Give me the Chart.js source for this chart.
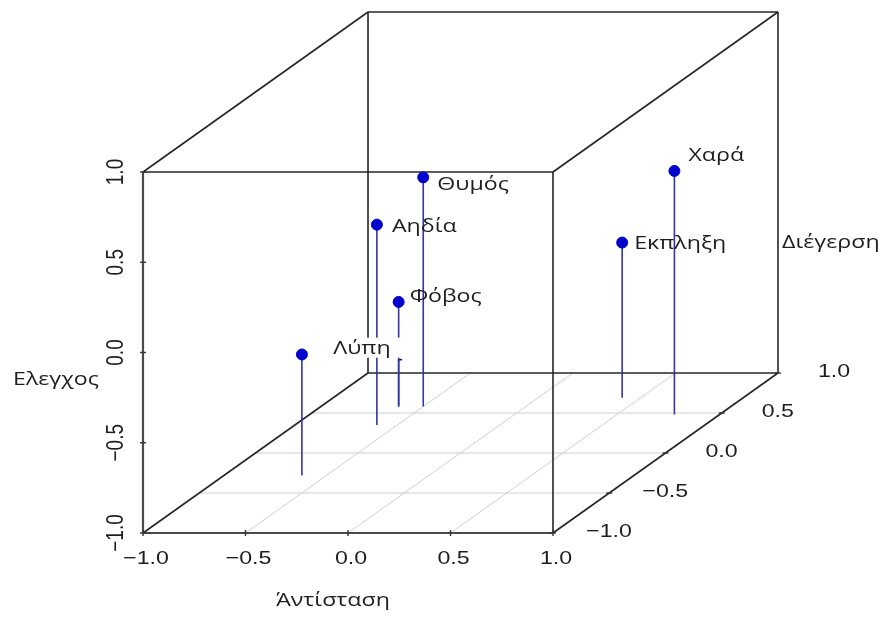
<!DOCTYPE html>
<html>
<head>
<meta charset="utf-8">
<script src="https://cdn.jsdelivr.net/npm/chart.js@4/dist/chart.umd.min.js"></script>
<style>
  html, body { margin: 0; padding: 0; background: #ffffff; }
  #wrap { width: 883px; height: 619px; }
</style>
</head>
<body>
<div id="wrap"><canvas id="c" width="883" height="619"></canvas></div>
<script>
// Emotions placed in a three-dimensional space
const emotions   = ['Χαρά', 'Εκπληξη', 'Θυμός', 'Αηδία', 'Φόβος', 'Λύπη', ''];
const resistance = [0.78, 0.41, -0.50, -0.60, -0.62, -0.62, -0.62];   // Άντίσταση (x)
const arousal    = [0.48, 0.69, 0.58, 0.35, 0.58, 0.58, -0.28];       // Διέγερση (depth)
const control    = [0.35, -0.14, 0.27, 0.11, -0.42, -0.74, -0.33];    // Ελεγχος (vertical)

const tickValues = [-1, -0.5, 0, 0.5, 1];
const tickLabels = ['\u22121.0', '\u22120.5', '0.0', '0.5', '1.0'];
const gridValues = [-0.5, 0, 0.5];

// label placement next to each point (pixels) and alignment
const labelDx    = [14, 12, 14, 15, 11, -8, 0];
const labelDy    = [-15, 1, 7, 2, -5, -11, 0];
const labelAlign = ['left', 'left', 'left', 'left', 'left', 'right', 'left'];

// oblique projection of the depth axis
const KU = 0.5488;   // horizontal shift per unit of depth
const KV = 0.4432;   // vertical shift per unit of depth
function proj(x, y, z) { return { x: x + KU * (y + 1), y: z + KV * (y + 1) }; }

const pointData = emotions.map((_, i) => proj(resistance[i], arousal[i], control[i]));
const dropSets = emotions.map((_, i) => ({
  type: 'line',
  data: [proj(resistance[i], arousal[i], control[i]), proj(resistance[i], arousal[i], -1)],
  borderColor: '#3434a6',
  borderWidth: 1.6,
  pointRadius: 0,
  fill: false,
  clip: false,
  order: 2
}));

const TEXT = '#1e1e1e';
const TICK_FONT = '19px "Liberation Sans", Arial, sans-serif';
const LABEL_FONT = '19px "Open Sans", "DejaVu Sans", sans-serif';
const WIDE = 1.22;   // text is drawn slightly widened

function wideText(ctx, text, x, y, align, rotate) {
  ctx.save();
  ctx.translate(x, y);
  ctx.scale(WIDE, 1);
  if (rotate) ctx.rotate(rotate);
  ctx.textAlign = align;
  ctx.fillText(text, 0, 0);
  ctx.restore();
}

const cubePlugin = {
  id: 'cube',
  beforeDatasetsDraw(chart) {
    const ctx = chart.ctx, sx = chart.scales.x, sy = chart.scales.y;
    const P = (x, y, z) => { const p = proj(x, y, z); return [sx.getPixelForValue(p.x), sy.getPixelForValue(p.y)]; };
    const seg = (a, b) => { ctx.beginPath(); ctx.moveTo(a[0], a[1]); ctx.lineTo(b[0], b[1]); ctx.stroke(); };
    ctx.save();
    // floor grid
    ctx.strokeStyle = '#cfcfcf';
    ctx.lineWidth = 1;
    gridValues.forEach(g => {
      seg(P(-1, g, -1), P(1, g, -1));
      seg(P(g, -1, -1), P(g, 1, -1));
    });
    // cube edges
    ctx.strokeStyle = '#262626';
    ctx.lineWidth = 1.6;
    const edges = [
      [[-1, 1, -1], [1, 1, -1]], [[-1, 1, 1], [1, 1, 1]], [[-1, 1, -1], [-1, 1, 1]], [[1, 1, -1], [1, 1, 1]],
      [[-1, -1, 1], [1, -1, 1]], [[1, -1, -1], [1, -1, 1]],
      [[-1, -1, -1], [-1, 1, -1]], [[1, -1, -1], [1, 1, -1]], [[-1, -1, 1], [-1, 1, 1]], [[1, -1, 1], [1, 1, 1]]
    ];
    edges.forEach(e => seg(P(...e[0]), P(...e[1])));
    ctx.strokeStyle = '#4a4a4a';
    ctx.lineWidth = 2.2;
    seg(P(-1, -1, -1), P(1, -1, -1));
    seg(P(-1, -1, -1), P(-1, -1, 1));
    // ticks
    ctx.lineWidth = 1.4;
    ctx.strokeStyle = '#333';
    tickValues.forEach(t => {
      let a = P(-1, -1, t); seg([a[0] - 3, a[1]], [a[0] + 3, a[1]]);
      a = P(t, -1, -1); seg([a[0], a[1] - 3], [a[0], a[1] + 3]);
      a = P(1, t, -1); seg([a[0] - 3, a[1]], [a[0] + 3, a[1]]);
    });
    // tick labels
    ctx.fillStyle = TEXT;
    ctx.font = TICK_FONT;
    ctx.textBaseline = 'middle';
    tickValues.forEach((t, i) => {
      let a = P(t, -1, -1);
      wideText(ctx, tickLabels[i], a[0] + 3, a[1] + 26, 'center');
      a = P(1, t, -1);
      wideText(ctx, tickLabels[i], a[0] + 56, a[1] - 1, 'center');
      a = P(-1, -1, t);
      wideText(ctx, tickLabels[i], a[0] - 26, a[1], 'center', -Math.PI / 2);
    });
    // axis titles
    ctx.font = LABEL_FONT;
    wideText(ctx, 'Άντίσταση', 333, 601, 'center');
    wideText(ctx, 'Ελεγχος', 13, 380, 'left');
    wideText(ctx, 'Διέγερση', 782, 243, 'left');
    ctx.restore();
  },
  afterDatasetsDraw(chart) {
    const ctx = chart.ctx, sx = chart.scales.x, sy = chart.scales.y;
    ctx.save();
    ctx.font = LABEL_FONT;
    ctx.textBaseline = 'middle';
    emotions.forEach((name, i) => {
      if (!name) return;
      const px = sx.getPixelForValue(pointData[i].x) + labelDx[i];
      const py = sy.getPixelForValue(pointData[i].y) + labelDy[i];
      if (labelAlign[i] === 'right') {
        const w = ctx.measureText(name).width * WIDE;
        ctx.fillStyle = '#ffffff';
        ctx.fillRect(px - w - 4, py - 11, w + 16, 20);
      }
      ctx.fillStyle = TEXT;
      wideText(ctx, name, px, py, labelAlign[i]);
    });
    ctx.restore();
  }
};

new Chart(document.getElementById('c'), {
  type: 'scatter',
  data: {
    datasets: [
      {
        data: pointData,
        backgroundColor: '#0000cd',
        borderColor: emotions.map(n => n === 'Λύπη' ? '#1a1a60' : '#0000cd'),
        borderWidth: emotions.map(n => n === 'Λύπη' ? 1.6 : 1),
        pointStyle: emotions.map(n => n === 'Λύπη' ? 'dash' : 'circle'),
        pointRadius: emotions.map(n => n === 'Λύπη' ? 3.5 : 5.5),
        clip: false,
        order: 1
      },
      ...dropSets
    ]
  },
  options: {
    responsive: false,
    animation: false,
    devicePixelRatio: 1,
    layout: { padding: { left: 143, right: 105, top: 12, bottom: 86 } },
    plugins: { legend: { display: false }, tooltip: { enabled: false } },
    scales: {
      x: { type: 'linear', min: -1, max: 1 + 2 * KU, display: false },
      y: { type: 'linear', min: -1, max: 1 + 2 * KV, display: false }
    }
  },
  plugins: [cubePlugin]
});
</script>
</body>
</html>
